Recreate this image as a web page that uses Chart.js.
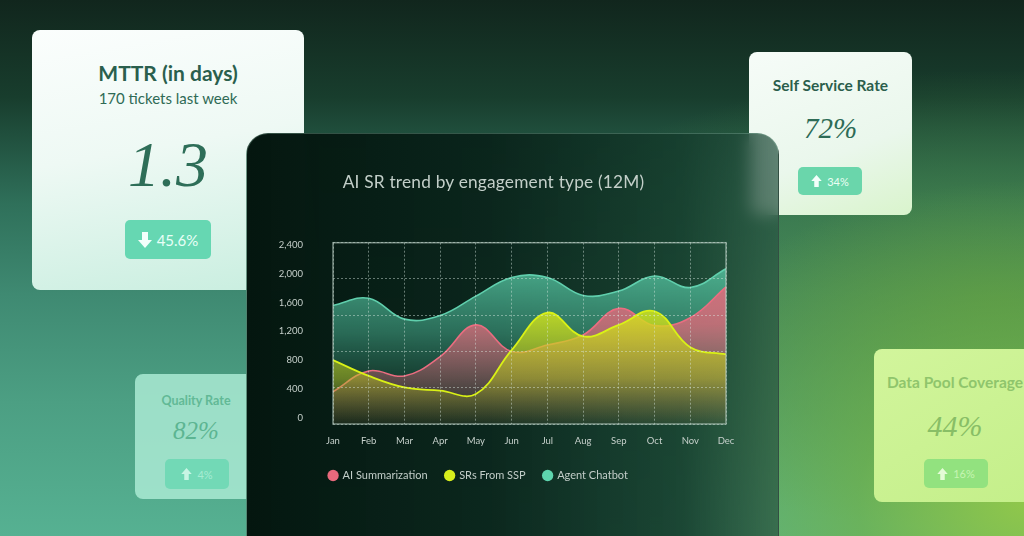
<!DOCTYPE html>
<html>
<head>
<meta charset="utf-8">
<script src="https://cdn.jsdelivr.net/npm/chart.js@4.4.1/dist/chart.umd.min.js"></script>
<style>
  html, body { margin: 0; padding: 0; }
  body {
    width: 1024px; height: 536px; overflow: hidden; position: relative;
    font-family: Lato, Inter, sans-serif;
    background:
      radial-gradient(ellipse 430px 320px at 1030px 500px, rgba(145,200,75,1) 0%, rgba(115,180,70,0.7) 40%, rgba(90,150,70,0) 100%),
      radial-gradient(ellipse 520px 230px at 1000px 300px, rgba(80,140,65,0.85) 0%, rgba(70,130,65,0.4) 60%, rgba(60,110,60,0) 100%),
      linear-gradient(180deg, #11261d 0%, #183d2d 18%, #2f705a 38%, #3f8a72 55%, #4c9f83 75%, #56b192 100%);
  }
  .card { position: absolute; border-radius: 8px; text-align: center; }
  .card .ttl { font-weight: 700; }
  .card .num { font-family: "Liberation Serif", "DejaVu Serif", serif; font-style: italic; }
  .badge {
    position: absolute; border-radius: 5px; display: flex; align-items: center;
    justify-content: center; gap: 5px;
  }
  .badge svg { display: block; }
  #mttr {
    left: 32px; top: 30px; width: 272px; height: 260px;
    background: linear-gradient(170deg, #fbfefd 0%, #eef9f4 45%, #c8eedf 100%);
    color: #2a5f4d;
  }
  #ssr {
    left: 749px; top: 52px; width: 163px; height: 163px;
    background: linear-gradient(160deg, #f6fcf8 0%, #eaf7ec 60%, #d9f4cc 100%);
    color: #2b5e4c;
  }
  #qr {
    left: 135px; top: 374px; width: 122px; height: 125px;
    background: rgba(170,234,212,0.85); color: #62b996;
  }
  #dpc {
    left: 874px; top: 349px; width: 162px; height: 153px;
    background: linear-gradient(150deg, #d2f59c 0%, #c4ef8a 100%); color: #8fc56c;
  }
  #panel {
    position: absolute; left: 246px; top: 133px; width: 531px; height: 430px;
    border-radius: 22px; border: 1px solid rgba(140,185,165,0.35);
    background: linear-gradient(90deg, rgba(4,22,15,1) 0%, rgba(10,36,27,0.98) 45%, rgba(22,62,46,0.92) 82%, rgba(40,84,66,0.72) 100%);
    backdrop-filter: blur(8px);
  }
  #title {
    position: absolute; left: 246px; top: 171px; width: 495px; text-align: center;
    font-size: 17.3px; color: #c3cfc9; letter-spacing: 0.2px;
  }
  #chartBox { position: absolute; left: 231px; top: 207px; width: 517px; height: 284px; }
</style>
</head>
<body>

<div class="card" id="mttr">
  <div class="ttl" style="position:absolute;left:0;right:0;top:30px;font-size:21px;">MTTR (in days)</div>
  <div style="position:absolute;left:0;right:0;top:59px;font-size:15px;color:#2f6a55;">170 tickets last week</div>
  <div class="num" style="position:absolute;left:0;right:0;top:98px;font-size:64px;color:#2e6e58;">1.3</div>
  <div class="badge" style="left:93px;top:190px;width:86px;height:39px;background:#66d7b2;color:#e9fff7;font-size:15px;">
    <svg width="14" height="16" viewBox="0 0 14 16"><path d="M4 0h6v8h4l-7 8-7-8h4z" fill="#f4fffb"/></svg>45.6%
  </div>
</div>

<div class="card" id="ssr">
  <div class="ttl" style="position:absolute;left:0;right:0;top:24px;font-size:15.5px;">Self Service Rate</div>
  <div class="num" style="position:absolute;left:0;right:0;top:60px;font-size:29px;color:#2d6b56;">72%</div>
  <div class="badge" style="left:49px;top:115px;width:64px;height:28px;background:#6ad6ab;color:#eafff4;font-size:11px;">
    <svg width="11" height="12" viewBox="0 0 14 16"><path d="M4 16h6v-8h4l-7-8-7 8h4z" fill="#f4fffb"/></svg>34%
  </div>
</div>

<div class="card" id="qr">
  <div class="ttl" style="position:absolute;left:0;right:0;top:19px;font-size:12.5px;">Quality Rate</div>
  <div class="num" style="position:absolute;left:0;right:0;top:43px;font-size:25px;color:#5cb592;">82%</div>
  <div class="badge" style="left:30px;top:85px;width:64px;height:30px;background:#72d9b6;color:#a6ecd3;font-size:11px;">
    <svg width="11" height="12" viewBox="0 0 14 16"><path d="M4 16h6v-8h4l-7-8-7 8h4z" fill="#c8f5e4"/></svg>4%
  </div>
</div>

<div class="card" id="dpc">
  <div class="ttl" style="position:absolute;left:0;right:0;top:24px;font-size:15.5px;white-space:nowrap;">Data Pool Coverage</div>
  <div class="num" style="position:absolute;left:0;right:0;top:60px;font-size:30px;color:#88be66;">44%</div>
  <div class="badge" style="left:50px;top:110px;width:64px;height:29px;background:#92e27f;color:#c6f5b2;font-size:11px;">
    <svg width="11" height="12" viewBox="0 0 14 16"><path d="M4 16h6v-8h4l-7-8-7 8h4z" fill="#e4fbd6"/></svg>16%
  </div>
</div>

<div id="panel"></div>
<div id="title">AI SR trend by engagement type (12M)</div>
<div id="chartBox"><canvas id="trendChart"></canvas></div>

<script>
const months = ['Jan', 'Feb', 'Mar', 'Apr', 'May', 'Jun', 'Jul', 'Aug', 'Sep', 'Oct', 'Nov', 'Dec'];
const aiSummarization = [360, 650, 580, 850, 1290, 920, 1010, 1150, 1520, 1280, 1390, 1820];
const srsFromSsp = [800, 580, 420, 375, 330, 940, 1460, 1130, 1290, 1480, 980, 880];
const agentChatbot = [1560, 1660, 1370, 1420, 1690, 1950, 1950, 1700, 1760, 1970, 1810, 2070];
const yTicks = [0, 400, 800, 1200, 1600, 2000, 2400];

// vertical gradient over the plot area
function areaFill(stops) {
    return (context) => {
        const { chart } = context;
        const area = chart.chartArea;
        if (!area) return stops[0][1];
        const g = chart.ctx.createLinearGradient(0, area.top, 0, area.bottom);
        stops.forEach(s => g.addColorStop(s[0], s[1]));
        return g;
    };
}

// solid frame round the plot
const plotFrame = {
    id: 'plotFrame',
    afterDraw(chart) {
        const { ctx, chartArea: a } = chart;
        ctx.save();
        ctx.strokeStyle = 'rgba(195,215,205,0.6)';
        ctx.lineWidth = 1.5;
        ctx.strokeRect(a.left, a.top, a.right - a.left, a.bottom - a.top);
        ctx.restore();
    }
};

const legendColors = ['#e8697c', '#d8ef1c', '#5ed5ae'];

Chart.defaults.font.family = 'Lato, Inter, sans-serif';

new Chart(document.getElementById('trendChart'), {
    type: 'line',
    data: {
        labels: months,
        datasets: [
            {
                label: 'AI Summarization',
                data: aiSummarization,
                borderColor: '#ea6d80',
                borderWidth: 1.6,
                backgroundColor: areaFill([[0, 'rgba(236,108,128,0.95)'], [0.45, 'rgba(225,105,122,0.78)'], [1, 'rgba(200,90,110,0.05)']]),
                fill: 'start',
                tension: 0.4,
                pointRadius: 0,
                order: 2
            },
            {
                label: 'SRs From SSP',
                data: srsFromSsp,
                borderColor: '#d9f116',
                borderWidth: 1.8,
                backgroundColor: areaFill([[0, 'rgba(215,235,20,0.95)'], [0.4, 'rgba(212,228,26,0.82)'], [0.75, 'rgba(185,195,30,0.5)'], [1, 'rgba(120,130,30,0.08)']]),
                fill: 'start',
                tension: 0.4,
                pointRadius: 0,
                order: 1
            },
            {
                label: 'Agent Chatbot',
                data: agentChatbot,
                borderColor: '#60cfad',
                borderWidth: 1.6,
                backgroundColor: areaFill([[0, 'rgba(92,205,168,0.92)'], [0.5, 'rgba(70,170,140,0.55)'], [1, 'rgba(40,100,80,0.05)']]),
                fill: 'start',
                tension: 0.4,
                pointRadius: 0,
                order: 3
            }
        ]
    },
    options: {
        responsive: true,
        maintainAspectRatio: false,
        animation: false,
        layout: { padding: { left: 0, top: 0, right: 22, bottom: 0 } },
        scales: {
            x: {
                grid: { color: 'rgba(220,235,228,0.45)', drawTicks: false, z: 1 },
                border: { display: false, dash: [2, 2] },
                ticks: { color: '#c6d0cb', font: { size: 9.5 }, padding: 11, maxRotation: 0 },
                afterFit: (scale) => { scale.height = 28; }
            },
            y: {
                min: -88,
                max: 2433,
                grid: { display: false, drawTicks: false },
                border: { display: false },
                afterBuildTicks: (scale) => { scale.ticks = yTicks.map(v => ({ value: v })); },
                ticks: {
                    color: '#c6d0cb',
                    font: { size: 9.5 },
                    padding: 30,
                    callback: (v) => v.toLocaleString('en-US')
                },
                afterFit: (scale) => { scale.width = 102; }
            },
            // only carries the horizontal dashed grid (5 bands)
            grid: {
                position: 'right',
                min: 0,
                max: 5,
                ticks: { display: false, stepSize: 1 },
                grid: { color: 'rgba(220,235,228,0.45)', drawTicks: false, z: 1 },
                border: { display: false, dash: [2, 2] }
            }
        },
        plugins: {
            legend: {
                position: 'bottom',
                align: 'center',
                labels: {
                    usePointStyle: true,
                    pointStyle: 'circle',
                    boxWidth: 8,
                    boxHeight: 8,
                    padding: 18,
                    color: '#c2cdc8',
                    font: { size: 11 },
                    sort: (a, b) => a.datasetIndex - b.datasetIndex,
                    generateLabels: (chart) => {
                        const items = Chart.defaults.plugins.legend.labels.generateLabels(chart);
                        items.forEach(it => {
                            it.fillStyle = legendColors[it.datasetIndex];
                            it.strokeStyle = legendColors[it.datasetIndex];
                            it.lineWidth = 0;
                        });
                        return items;
                    }
                }
            },
            tooltip: { enabled: false }
        }
    },
    plugins: [plotFrame]
});
</script>
</body>
</html>
